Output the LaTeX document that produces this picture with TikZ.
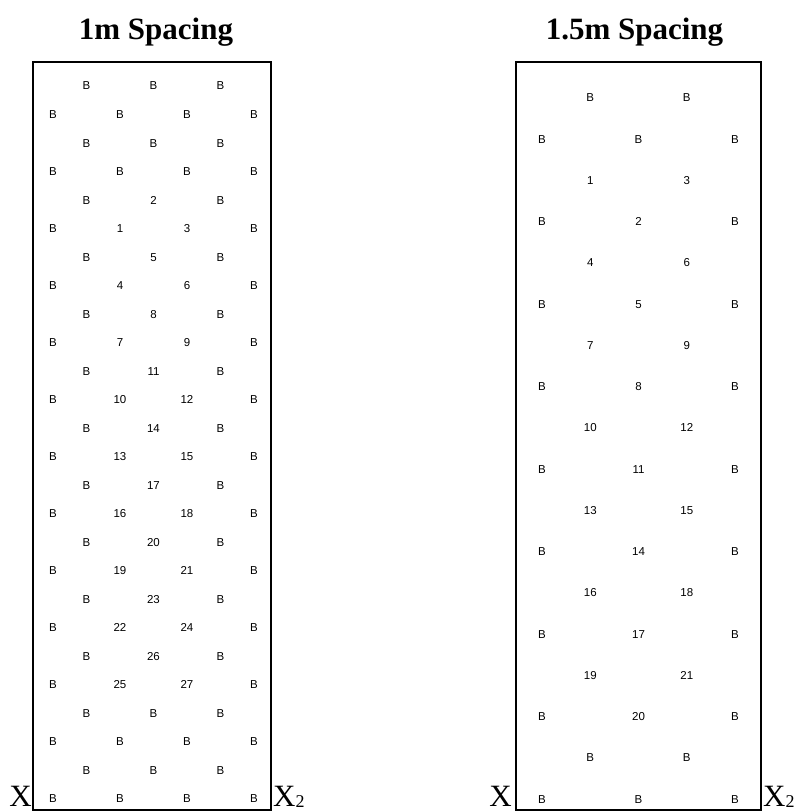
\documentclass[tikz,border=0pt]{standalone}
\usepackage{fontspec}
\setmainfont{Liberation Serif}
\newfontfamily\labelfont{Liberation Sans}
\usetikzlibrary{positioning}

\begin{document}
\begin{tikzpicture}[x=1pt, y=-1pt,
        plot/.style={draw, line width=1.4pt},
        heading/.style={anchor=base, inner sep=0pt, font=\fontsize{31}{31}\selectfont\bfseries},
        endmark/.style={inner sep=0pt, font=\fontsize{31}{31}\selectfont},
        spot/.style={inner sep=0pt, font=\labelfont\fontsize{11.5}{11.5}\selectfont}
    ]
        \useasboundingbox (0,0) rectangle (798,812);

        % 1m spacing
        \node[heading] (t1) at (156,39) {1m Spacing};
        \draw[plot] (33,62) rectangle (271,810);
        \foreach \labs [count=\r from 0] in {{B,B,B},{B,B,B,B},{B,B,B},{B,B,B,B},
            {B,2,B},{B,1,3,B},{B,5,B},{B,4,6,B},{B,8,B},{B,7,9,B},
            {B,11,B},{B,10,12,B},{B,14,B},{B,13,15,B},{B,17,B},{B,16,18,B},
            {B,20,B},{B,19,21,B},{B,23,B},{B,22,24,B},{B,26,B},{B,25,27,B},
            {B,B,B},{B,B,B,B},{B,B,B},{B,B,B,B}} {
            \pgfmathsetmacro{\xs}{mod(\r,2)==1 ? 53 : 86.5}
            \foreach \t [count=\i from 0] in \labs
                \node[spot] (a\r-\i) at (\xs+67*\i, 86+28.52*\r) {\t};
        }
        \node[endmark, anchor=base east] (xa) at (32,806) {X};
        \node[endmark, anchor=base west] (xb) at (273,806) {X\raisebox{-1pt}{\fontsize{18}{18}\selectfont 2}};

        % 1.5m spacing
        \node[heading] (t2) at (634.5,39) {1.5m Spacing};
        \draw[plot] (516,62) rectangle (761,810);
        \foreach \labs [count=\r from 0] in {{B,B},{B,B,B},{1,3},{B,2,B},{4,6},{B,5,B},
            {7,9},{B,8,B},{10,12},{B,11,B},{13,15},{B,14,B},{16,18},{B,17,B},
            {19,21},{B,20,B},{B,B},{B,B,B}} {
            \pgfmathsetmacro{\xs}{mod(\r,2)==1 ? 542 : 590.25}
            \foreach \t [count=\i from 0] in \labs
                \node[spot] (b\r-\i) at (\xs+96.5*\i, 98+41.24*\r) {\t};
        }
        \node[endmark, anchor=base east] (xc) at (512,806) {X};
        \node[endmark, anchor=base west] (xd) at (763,806) {X\raisebox{-1pt}{\fontsize{18}{18}\selectfont 2}};
    \end{tikzpicture}
\end{document}
